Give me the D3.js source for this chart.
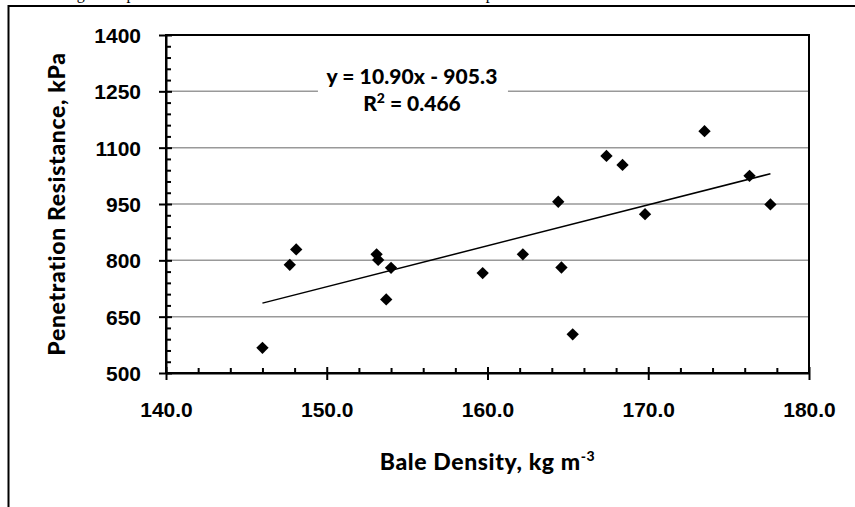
<!DOCTYPE html>
<html>
<head>
<meta charset="utf-8">
<script src="https://cdn.jsdelivr.net/npm/d3@7"></script>
<style>
	html, body { margin: 0; padding: 0; background: #fff; }
	svg { display: block; font-family: Lato, 'Open Sans', sans-serif; }
	.tick text { font-weight: 900; font-size: 21px; fill: #000; }
	.axis path, .axis line { stroke: #000; stroke-width: 2; }
	.title { font-weight: 900; font-size: 23px; fill: #000; }
</style>
</head>
<body>
<div id="chart"></div>
<script>
// bale density (kg m-3) and penetration resistance (kPa)
const density = [146.0, 147.7, 148.1, 153.1, 153.2, 154.0, 153.7, 159.7, 162.2, 164.4, 164.6, 165.3, 167.4, 168.4, 169.8, 173.5, 176.3, 177.6];
const resistance = [567, 788, 829, 816, 801, 780, 696, 766, 816, 956, 781, 603, 1078, 1054, 923, 1144, 1025, 949];
const xTicks = [140, 150, 160, 170, 180];
const yTicks = [500, 650, 800, 950, 1100, 1250, 1400];
const slope = 10.90, intercept = -905.3, r2 = 0.466;

const options = {
	w: 855,
	h: 507,
	mTop: 35,
	mRight: 46,
	mBottom: 134,
	mLeft: 166
};

const width = options.w - (options.mLeft + options.mRight),
	height = options.h - (options.mTop + options.mBottom);

// stretch a text with letter spacing so it spans the wanted length
const fitWidth = (sel, target) => {
	const node = sel.node();
	const n = node.getNumberOfChars();
	const len = node.getComputedTextLength();
	if (n > 1 && len < target) sel.style('letter-spacing', ((target - len) / (n - 1)) + 'px');
};

const svg = d3.select('#chart').append('svg')
	.attr('width', options.w)
	.attr('height', options.h);

// cut-off figure caption and page frame
svg.append('text')
	.attr('x', -22)
	.attr('y', -1)
	.style('font-family', "'Liberation Serif', serif")
	.style('font-size', '16px')
	.text('Figure 6. Average bale penetration resistance under different levels of bale compression');
svg.append('path')
	.attr('d', 'M8.5,507V6H855')
	.attr('fill', 'none')
	.attr('stroke', '#000')
	.attr('stroke-width', 2);

const g = svg.append('g')
	.attr('transform', 'translate(' + options.mLeft + ',' + options.mTop + ')');

const x = d3.scaleLinear().domain([140, 180]).range([0, width]);
const y = d3.scaleLinear().domain([500, 1400]).range([height, 0]);

// gridlines
g.append('g')
	.selectAll('line')
	.data(yTicks.slice(1, -1))
	.enter()
	.append('line')
	.attr('x1', 0)
	.attr('x2', width)
	.attr('y1', d => y(d))
	.attr('y2', d => y(d))
	.attr('stroke', '#999')
	.attr('stroke-width', 1.5);

// plot border
g.append('rect')
	.attr('width', width)
	.attr('height', height)
	.attr('fill', 'none')
	.attr('stroke', '#000')
	.attr('stroke-width', 2);

// minor ticks
const yMinor = d3.range(500, 1400, 30).filter(v => (v - 500) % 150 !== 0);
const xMinor = d3.range(140, 180, 2).filter(v => v % 10 !== 0);

g.append('g')
	.classed('axis', true)
	.call(d3.axisLeft(y).tickValues(yMinor).tickSize(-5).tickFormat(''))
	.call(a => a.select('.domain').remove());
g.append('g')
	.classed('axis', true)
	.attr('transform', 'translate(0,' + height + ')')
	.call(d3.axisBottom(x).tickValues(xMinor).tickSize(-5).tickFormat(''))
	.call(a => a.select('.domain').remove());

// major axes
g.append('g')
	.classed('axis', true)
	.call(d3.axisLeft(y).tickValues(yTicks).tickSize(7).tickSizeOuter(0).tickPadding(18).tickFormat(d3.format('d')))
	.call(a => {
		a.selectAll('.tick line').attr('x1', 6);
		a.selectAll('.tick text').attr('dy', '0.36em');
	});
g.append('g')
	.classed('axis', true)
	.attr('transform', 'translate(0,' + height + ')')
	.call(d3.axisBottom(x).tickValues(xTicks).tickSize(7).tickSizeOuter(0).tickPadding(22).tickFormat(d3.format('.1f')))
	.call(a => a.selectAll('.tick line').attr('y1', -6));

// trendline
const xr = d3.extent(density);
g.append('line')
	.attr('x1', x(xr[0]))
	.attr('x2', x(xr[1]))
	.attr('y1', y(slope * xr[0] + intercept))
	.attr('y2', y(slope * xr[1] + intercept))
	.attr('stroke', '#000')
	.attr('stroke-width', 1.5);

// points
const sym = d3.symbol().type(d3.symbolSquare).size(76);
g.append('g')
	.selectAll('path')
	.data(density.map((d, i) => ({x: d, y: resistance[i]})))
	.enter()
	.append('path')
	.attr('d', sym)
	.attr('transform', d => 'translate(' + x(d.x) + ',' + y(d.y) + ') rotate(45)')
	.attr('fill', '#000');

// equation label
const eq = g.append('g').attr('transform', 'translate(' + (x(155.3)) + ',0)');
eq.append('rect')
	.attr('x', -94)
	.attr('y', 28)
	.attr('width', 190)
	.attr('height', 52)
	.attr('fill', '#fff');
const eqt = eq.append('text')
	.classed('title', true)
	.style('font-size', '21px')
	.attr('text-anchor', 'middle')
	.attr('y', 49)
	.text('y = ' + slope.toFixed(2) + 'x - ' + Math.abs(intercept).toFixed(1));
fitWidth(eqt, 171);
const r2t = eq.append('text')
	.classed('title', true)
	.style('font-size', '21px')
	.attr('text-anchor', 'middle')
	.attr('y', 76);
r2t.append('tspan').text('R');
r2t.append('tspan').attr('dy', -8).style('font-size', '14px').text('2');
r2t.append('tspan').attr('dy', 8).text(' = ' + r2.toFixed(3));
fitWidth(r2t, 97);

// axis titles
const yt = svg.append('text')
	.classed('title', true)
	.attr('text-anchor', 'middle')
	.attr('transform', 'translate(65,' + (options.mTop + height / 2) + ') rotate(-90)')
	.text('Penetration Resistance, kPa');
fitWidth(yt, 303);
const xt = svg.append('text')
	.classed('title', true)
	.attr('text-anchor', 'middle')
	.attr('x', options.mLeft + width / 2)
	.attr('y', 470);
xt.append('tspan').text('Bale Density, kg m');
xt.append('tspan').attr('dy', -9).style('font-size', '14px').text('-3');
fitWidth(xt, 215);
</script>
</body>
</html>
